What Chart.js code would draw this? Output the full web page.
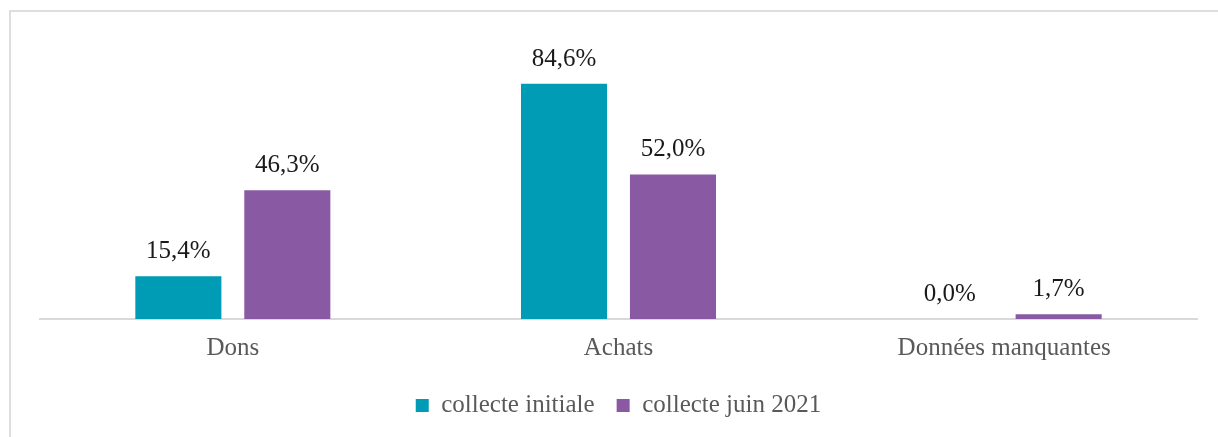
<!DOCTYPE html>
<html lang="fr">
<head>
<meta charset="utf-8">
<title>Origine des produits</title>
<script src="https://cdn.jsdelivr.net/npm/chart.js@4/dist/chart.umd.min.js"></script>
<style>
  html, body { margin: 0; padding: 0; background: #ffffff; }
  #wrap { position: relative; width: 1218px; height: 437px; overflow: hidden; }
  #frame { position: absolute; left: 9px; top: 10px; right: -5px; bottom: -5px;
           border-top: 2px solid #dedede; border-left: 2px solid #dedede; pointer-events: none; }
  canvas { position: absolute; left: 0; top: 0; }
</style>
</head>
<body>
<div id="wrap">
  <canvas id="chart" width="1218" height="437"></canvas>
  <div id="frame"></div>
</div>
<script>
// Categories and series (percentages)
const categories = ['Dons', 'Achats', 'Données manquantes'];
const seriesNames = ['collecte initiale', 'collecte juin 2021'];
const collecteInitiale = [15.4, 84.6, 0.0];
const collecteJuin2021 = [46.3, 52.0, 1.7];
const seriesColors = ['#009bb4', '#8959a3'];

const serif = "'Liberation Serif', 'Times New Roman', serif";

function frPercent(v) {
  return v.toFixed(1).replace('.', ',') + '%';
}

// Writes each value above its bar
const valueLabels = {
  id: 'valueLabels',
  afterDatasetsDraw(chart) {
    const ctx = chart.ctx;
    ctx.save();
    ctx.font = '25px ' + serif;
    ctx.fillStyle = '#1a1a1a';
    ctx.textAlign = 'center';
    ctx.textBaseline = 'alphabetic';
    chart.data.datasets.forEach((ds, di) => {
      const meta = chart.getDatasetMeta(di);
      meta.data.forEach((bar, i) => {
        ctx.fillText(frPercent(ds.data[i]), bar.x, bar.y - 18);
      });
    });
    ctx.restore();
  }
};

new Chart(document.getElementById('chart'), {
  type: 'bar',
  data: {
    labels: categories,
    datasets: [
      { label: seriesNames[0], data: collecteInitiale, backgroundColor: seriesColors[0] },
      { label: seriesNames[1], data: collecteJuin2021, backgroundColor: seriesColors[1] }
    ]
  },
  options: {
    responsive: false,
    animation: false,
    devicePixelRatio: 1,
    categoryPercentage: 0.565,
    barPercentage: 0.79,
    layout: { padding: { left: 40, right: 21, top: 41, bottom: 9 } },
    scales: {
      x: {
        grid: { display: false, drawTicks: false },
        border: { display: true, color: '#d9d9d9', width: 2 },
        ticks: { color: '#595959', font: { family: serif, size: 25 }, padding: 14 },
        afterFit(scale) { scale.height = 52; }
      },
      y: {
        display: false,
        min: 0,
        max: 100
      }
    },
    plugins: {
      legend: {
        position: 'bottom',
        labels: {
          color: '#595959',
          font: { family: serif, size: 25 },
          boxWidth: 13,
          boxHeight: 13,
          padding: 22
        }
      },
      tooltip: { enabled: false }
    }
  },
  plugins: [valueLabels]
});
</script>
</body>
</html>
